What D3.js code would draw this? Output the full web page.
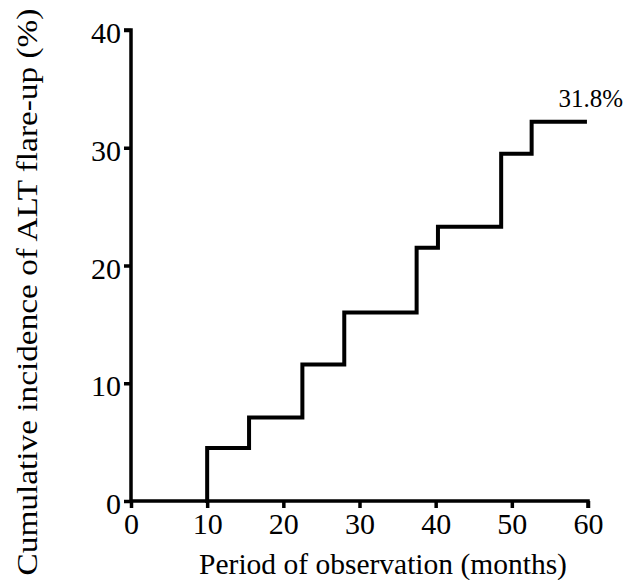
<!DOCTYPE html>
<html>
<head>
<meta charset="utf-8">
<script src="https://cdn.jsdelivr.net/npm/d3@7"></script>
<style>
  html, body { margin: 0; padding: 0; background: #fff; }
  svg text { font-family: "Liberation Serif", "Times New Roman", serif; fill: #000; }
</style>
</head>
<body>
<svg id="chart"></svg>
<script>
// step times (months) and cumulative incidence (%) after each step
const stepMonths = [10, 15.5, 22.5, 28, 37.5, 40.3, 48.6, 52.6];
const stepValues = [4.5, 7.1, 11.6, 16.0, 21.5, 23.3, 29.5, 32.2];
const lastMonth = 59.6;
const xTicks = [0, 10, 20, 30, 40, 50, 60];
const yTicks = [0, 10, 20, 30, 40];
const endLabel = "31.8%";

const width = 626, height = 580;
const margin = { top: 30, right: 38, bottom: 79, left: 131 };

const svg = d3.select("#chart").attr("width", width).attr("height", height);

const x = d3.scaleLinear().domain([0, 60]).range([margin.left, width - margin.right]);
const y = d3.scaleLinear().domain([0, 40]).range([height - margin.bottom, margin.top]);

// build step points
const pts = [];
stepMonths.forEach(function (m, i) {
  pts.push([m, i === 0 ? 0 : stepValues[i - 1]]);
  pts.push([m, stepValues[i]]);
});
pts.push([lastMonth, stepValues[stepValues.length - 1]]);

const line = d3.line()
  .x(function (d) { return x(d[0]); })
  .y(function (d) { return y(d[1]); });

svg.append("path")
  .datum(pts)
  .attr("d", line)
  .attr("fill", "none")
  .attr("stroke", "#000")
  .attr("stroke-width", 4)
  .attr("stroke-linejoin", "miter")
  .attr("stroke-linecap", "square");

// axes
const xAxis = svg.append("g")
  .attr("transform", "translate(0," + y(0) + ")")
  .call(d3.axisBottom(x).tickValues(xTicks).tickSize(7).tickPadding(5).tickSizeOuter(0));
const yAxis = svg.append("g")
  .attr("transform", "translate(" + x(0) + ",0)")
  .call(d3.axisLeft(y).tickValues(yTicks).tickSize(7).tickPadding(3).tickSizeOuter(0));

[xAxis, yAxis].forEach(function (a) {
  a.attr("font-size", null).attr("font-family", null);
  a.select(".domain").attr("stroke", "#000").attr("stroke-width", 3.5);
  a.selectAll(".tick line").attr("stroke", "#000").attr("stroke-width", 3.5);
  a.selectAll(".tick text")
    .style("font-family", '"Liberation Serif", serif')
    .style("font-size", "30px")
    .attr("fill", "#000");
});
yAxis.selectAll(".tick text").attr("dy", "0.42em");
// top tick cap of y axis and end cap of x axis
yAxis.select(".domain").attr("d", "M-7," + y(40) + "H0V" + y(0));
xAxis.select(".domain").attr("d", "M" + x(0) + ",0H" + x(60) + "V7");

// end label
svg.append("text")
  .attr("x", x(lastMonth) + 38)
  .attr("y", y(stepValues[stepValues.length - 1]) - 15)
  .attr("text-anchor", "end")
  .style("font-size", "25px")
  .text(endLabel);

// axis titles
svg.append("text")
  .attr("x", 383)
  .attr("y", 574)
  .attr("text-anchor", "middle")
  .style("font-size", "29.5px")
  .text("Period of observation (months)");

svg.append("text")
  .attr("transform", "translate(37,292) scale(1,1.11) rotate(-90)")
  .attr("text-anchor", "middle")
  .style("font-size", "30px")
  .text("Cumulative incidence of ALT flare-up (%)");
</script>
</body>
</html>
